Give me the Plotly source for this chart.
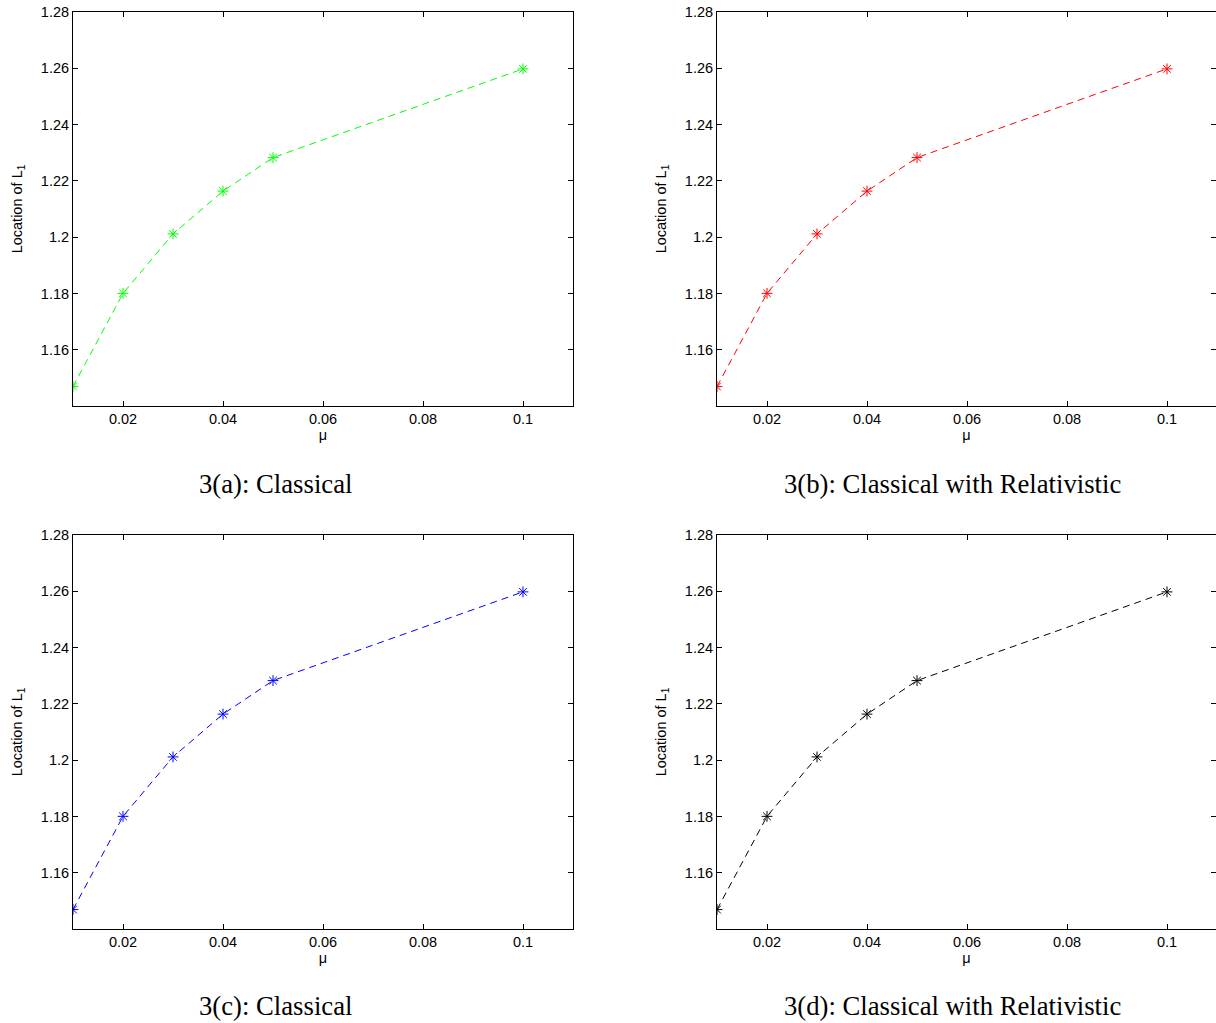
import plotly.graph_objects as go

mu = [0.01, 0.02, 0.03, 0.04, 0.05, 0.1]
l1_a = [1.1470, 1.1801, 1.2012, 1.2164, 1.2283, 1.2598]
l1_b = [1.1470, 1.1801, 1.2012, 1.2164, 1.2283, 1.2598]
l1_c = [1.1470, 1.1801, 1.2012, 1.2164, 1.2283, 1.2598]
l1_d = [1.1470, 1.1801, 1.2012, 1.2164, 1.2283, 1.2598]
series = [l1_a, l1_b, l1_c, l1_d]
colors = ["#00ff00", "#ff0000", "#0000ff", "#000000"]
captions = ["3(a): Classical", "3(b): Classical with Relativistic",
            "3(c): Classical", "3(d): Classical with Relativistic"]
xticks = [0.02, 0.04, 0.06, 0.08, 0.1]
yticks = [1.16, 1.18, 1.2, 1.22, 1.24, 1.26, 1.28]

W, H = 1216, 1023
# pixel boxes (left, right, top, bottom)
boxes = [(73, 573, 12, 406), (717, 1216, 12, 406),
         (73, 573, 535, 929), (717, 1216, 535, 929)]
cap_pos = [(275, 484), (952, 484), (275, 1006), (952, 1006)]
px_per_unit = 5000.0

fig = go.Figure()
font_tick = dict(family="Liberation Sans, Arial, sans-serif", size=14.5, color="#000")
for i, (ys, col) in enumerate(zip(series, colors)):
    n = "" if i == 0 else str(i + 1)
    fig.add_trace(go.Scatter(
        x=mu, y=ys, mode="lines+markers",
        line=dict(color=col, width=1, dash="7px,5px"),
        marker=dict(symbol="asterisk-open", size=9, color=col,
                    line=dict(color=col, width=1)),
        xaxis="x" + n, yaxis="y" + n, showlegend=False))
    l, r, t, b = boxes[i]
    xr = [0.01, 0.01 + (r - l) / px_per_unit]
    common = dict(showgrid=False, zeroline=False, showline=True, linecolor="#000",
                  linewidth=1, mirror="ticks", ticks="inside", ticklen=5,
                  tickcolor="#000", tickwidth=1, tickfont=font_tick,
                  automargin=False)
    fig.update_layout(**{
        "xaxis" + n: dict(domain=[l / W, r / W], range=xr, tickvals=xticks,
                          ticktext=[f"{v:g}" for v in xticks],
                          anchor="y" + n,
                          title=dict(text="μ", font=font_tick, standoff=2),
                          **common),
        "yaxis" + n: dict(domain=[1 - b / H, 1 - t / H], range=[1.1401, 1.28],
                          tickvals=yticks, ticktext=[f"{v:g}" for v in yticks],
                          anchor="x" + n,
                          title=dict(text="Location of L<sub>1</sub>", font=font_tick,
                                     standoff=14),
                          **common),
    })
    cx, cy = cap_pos[i]
    fig.add_annotation(text=captions[i], x=cx / W, y=1 - cy / H,
                       xref="paper", yref="paper", showarrow=False,
                       xanchor="center", yanchor="middle",
                       font=dict(family="Liberation Serif, Times New Roman, serif",
                                 size=26.7, color="#000"))

fig.update_layout(width=W, height=H, margin=dict(l=0, r=0, t=0, b=0, autoexpand=False),
                  paper_bgcolor="#fff", plot_bgcolor="#fff")
fig.write_html("out.html")
